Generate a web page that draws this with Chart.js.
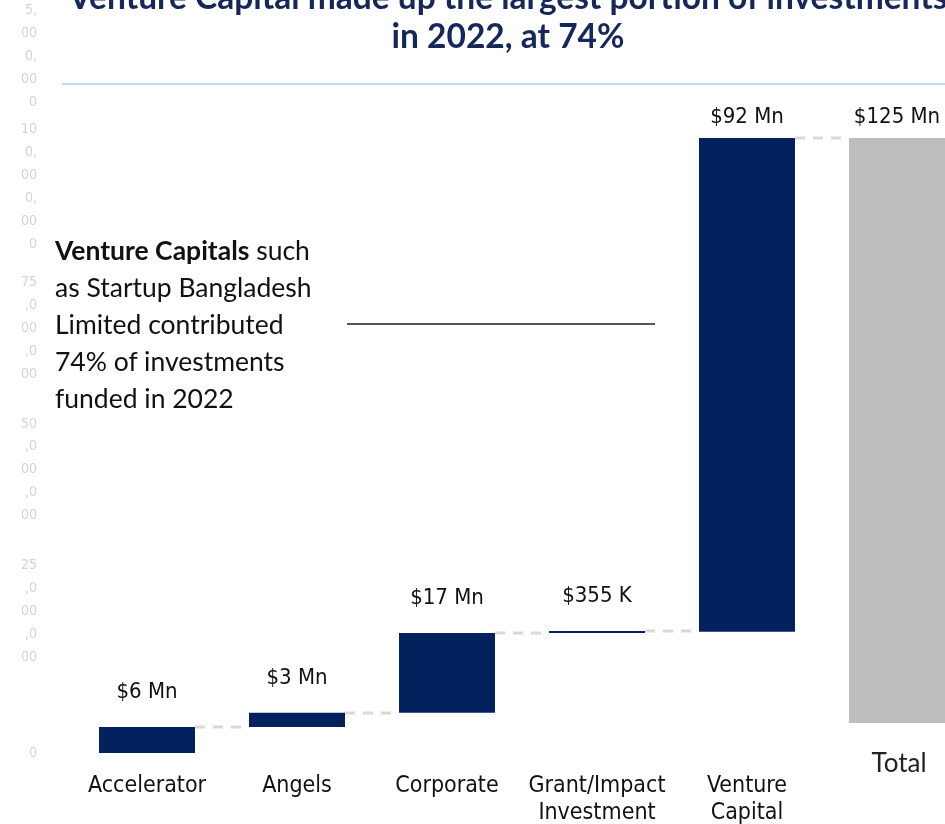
<!DOCTYPE html>
<html>
<head>
<meta charset="utf-8">
<script src="https://cdn.jsdelivr.net/npm/chart.js@4"></script>
<style>
  html, body { margin: 0; padding: 0; background: #fff; overflow: hidden; width: 945px; height: 824px; }
  #wrap { position: absolute; left: 0; top: 0; width: 1000px; height: 824px; }
  .title {
    position: absolute; left: 0; top: -23px; width: 1016px; text-align: center;
    font-family: Lato, sans-serif; font-weight: 700; font-size: 33.5px; line-height: 39px;
    color: #16285a; white-space: nowrap;
  }
  .rule { position: absolute; left: 62px; top: 83px; width: 900px; height: 2px; background: #c6d5ee; }
  .note {
    position: absolute; left: 55px; top: 232px;
    font-family: Lato, sans-serif; font-size: 26.5px; line-height: 37px; color: #111;
  }
  .note b { font-weight: 700; }
  .pointer { position: absolute; left: 347px; top: 323px; width: 308px; height: 2px; background: #555; }
</style>
</head>
<body>
<div id="wrap"><canvas id="waterfall"></canvas></div>
<div class="title">Venture Capital made up the largest portion of investments<br>in 2022, at 74%</div>
<div class="rule"></div>
<div class="note"><b>Venture Capitals</b> such<br>as Startup Bangladesh<br>Limited contributed<br>74% of investments<br>funded in 2022</div>
<div class="pointer"></div>
<script>
const categories = ["Accelerator", "Angels", "Corporate", "Grant/Impact Investment", "Venture Capital", "Total"];
// floating bars, in $ Mn
const barStart = [0, 4.6, 7.1, 21.2, 21.4, 5.3];
const barEnd = [4.6, 7.1, 21.2, 21.55, 108.6, 108.6];
const valueLabels = ["$6 Mn", "$3 Mn", "$17 Mn", "$355 K", "$92 Mn", "$125 Mn"];
const barColors = ["#03215d", "#03215d", "#03215d", "#03215d", "#03215d", "#bdbdbd"];
const yMax = 125;
const yStep = 25;

const tickFont = "'DejaVu Sans Condensed', 'DejaVu Sans', sans-serif";

const connectors = {
  id: "connectors",
  beforeDatasetsDraw(chart) {
    const bars = chart.getDatasetMeta(0).data;
    const y = chart.scales.y;
    const ctx = chart.ctx;
    ctx.save();
    ctx.strokeStyle = "#d9d9d9";
    ctx.lineWidth = 3;
    ctx.setLineDash([10, 8]);
    for (let i = 0; i < bars.length - 1; i++) {
      const py = Math.round(y.getPixelForValue(barEnd[i]));
      ctx.beginPath();
      ctx.moveTo(bars[i].x + bars[i].width / 2, py);
      ctx.lineTo(bars[i + 1].x - bars[i + 1].width / 2, py);
      ctx.stroke();
    }
    ctx.restore();
  }
};

const valueText = {
  id: "valueText",
  afterDatasetsDraw(chart) {
    const bars = chart.getDatasetMeta(0).data;
    const ctx = chart.ctx;
    ctx.save();
    ctx.font = "22px " + tickFont;
    ctx.textAlign = "center";
    ctx.textBaseline = "middle";
    ctx.lineJoin = "round";
    bars.forEach((bar, i) => {
      const top = Math.min(bar.y, bar.base);
      const ty = Math.max(top - 35, chart.chartArea.top + 72);
      ctx.strokeStyle = "#fff";
      ctx.lineWidth = 4;
      ctx.strokeText(valueLabels[i], bar.x, ty);
      ctx.fillStyle = "#111";
      ctx.fillText(valueLabels[i], bar.x, ty);
    });
    // the Total label sits higher than the others
    const last = bars.length - 1;
    ctx.font = "26px Lato, sans-serif";
    ctx.fillStyle = "#222";
    ctx.fillText(categories[last], bars[last].x + 2, chart.chartArea.bottom + 11);
    ctx.restore();
  }
};

new Chart(document.getElementById("waterfall"), {
  type: "bar",
  data: {
    labels: categories,
    datasets: [{
      data: barStart.map((s, i) => [s, barEnd[i]]),
      backgroundColor: barColors,
      borderWidth: 0,
      barPercentage: 0.64,
      categoryPercentage: 1
    }]
  },
  options: {
    responsive: true,
    maintainAspectRatio: false,
    animation: false,
    layout: { padding: { top: 45, right: 28, left: 0, bottom: 0 } },
    plugins: { legend: { display: false }, tooltip: { enabled: false } },
    scales: {
      x: {
        grid: { display: false, drawTicks: false },
        border: { display: false },
        ticks: {
          autoSkip: false,
          maxRotation: 0,
          padding: 19,
          color: "#111",
          font: { family: tickFont, size: 23, lineHeight: 1.2 },
          callback(v, i) {
            const label = categories[i];
            if (i === categories.length - 1) return "";
            return label.includes(" ") ? label.split(" ") : label;
          }
        },
        afterFit(scale) { scale.height = 71; }
      },
      y: {
        min: 0,
        max: yMax,
        grid: { display: false, drawTicks: false },
        border: { display: false },
        ticks: {
          stepSize: yStep,
          autoSkip: false,
          padding: 35,
          color: "#d4d4d4",
          font: { family: tickFont, size: 14, lineHeight: 1.64 },
          callback(v) {
            const s = (v * 1e6).toLocaleString("en-US");
            return s.match(/.{1,2}/g);
          }
        },
        afterFit(scale) {
          scale.width = 72;
          scale.paddingTop = 0;
          scale.paddingBottom = 0;
        }
      }
    }
  },
  plugins: [connectors, valueText]
});
</script>
</body>
</html>
